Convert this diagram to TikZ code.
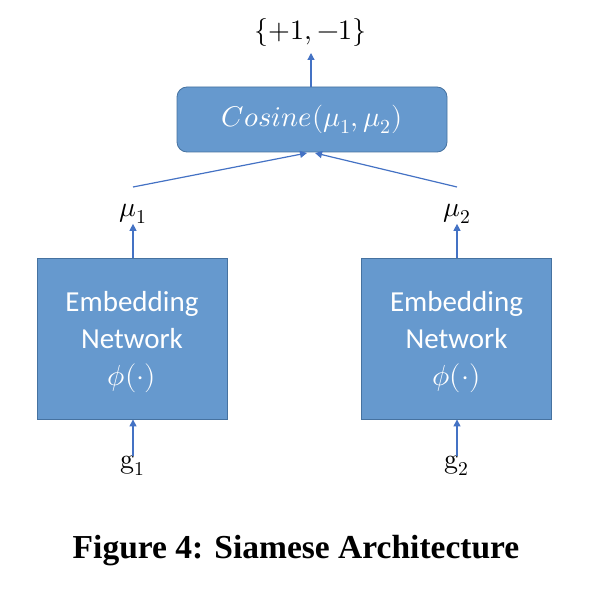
\documentclass[tikz,border=0pt]{standalone}
\usepackage{fontspec}
\usepackage{unicode-math}
\setmainfont{Carlito}
\setmathfont{Latin Modern Math}
\newfontfamily\capfont{Liberation Serif}
\usetikzlibrary{arrows.meta}
\definecolor{boxfill}{RGB}{102,153,206}
\definecolor{boxdraw}{RGB}{70,114,160}
\definecolor{arr}{RGB}{68,114,196}
\tikzset{
  netbox/.style={draw=boxdraw, fill=boxfill, line width=0.8pt, minimum width=190pt, minimum height=161pt, inner sep=0pt},
  nettext/.style={text=white, align=center, font=\fontsize{29}{37}\selectfont, inner sep=0pt},
  cosbox/.style={draw=boxdraw, fill=boxfill, line width=0.8pt, rounded corners=10pt, minimum width=270pt, minimum height=65pt, text=white, font=\fontsize{28.5}{30}\selectfont, inner sep=0pt},
  lbl/.style={font=\fontsize{28}{30}\selectfont, inner sep=0pt},
  conn/.style={draw=arr, line width=1.2pt, -{Triangle[length=7pt,width=7pt]}}
}
\begin{document}
\begin{tikzpicture}[x=1pt,y=-1pt]
\useasboundingbox (0,0) rectangle (596,596);
\node[cosbox] (cos) at (312,119.5) {$Cosine(\mu_1,\mu_2)$};
\node[lbl] (out) at (311,33) {$\{+1,-1\}$};
\node[netbox] (n1) at (132,338.5) {};
\node[netbox] (n2) at (456.5,338.5) {};
\node[nettext] (t1txt) at (132,342) {Embedding\\Network\\$\phi(\cdot)$};
\node[nettext] (t2txt) at (456.5,342) {Embedding\\Network\\$\phi(\cdot)$};
\node[lbl] (m1) at (133,214) {$\mu_1$};
\node[lbl] (m2) at (457,214) {$\mu_2$};
\node[lbl] (g1) at (133,466) {$\symup{g}_1$};
\node[lbl] (g2) at (457,466) {$\symup{g}_2$};
\coordinate (l1) at (133,187);
\coordinate (l2) at (457,187);
\coordinate (t1) at (307,153);
\coordinate (t2) at (315,153);
\coordinate (o1) at (311,53);
\draw[conn] (cos.north -| o1) -- (o1);
\draw[conn] (l1) -- (t1);
\draw[conn] (l2) -- (t2);
\draw[conn] (n1.north -| m1) -- (m1.south);
\draw[conn] (n2.north -| m2) -- (m2.south);
\draw[conn] (g1.north) -- (n1.south -| g1);
\draw[conn] (g2.north) -- (n2.south -| g2);
\node[font=\capfont\bfseries\fontsize{33.5}{36}\selectfont] (cap) at (296,551) {Figure 4: Siamese Architecture};
\end{tikzpicture}
\end{document}
